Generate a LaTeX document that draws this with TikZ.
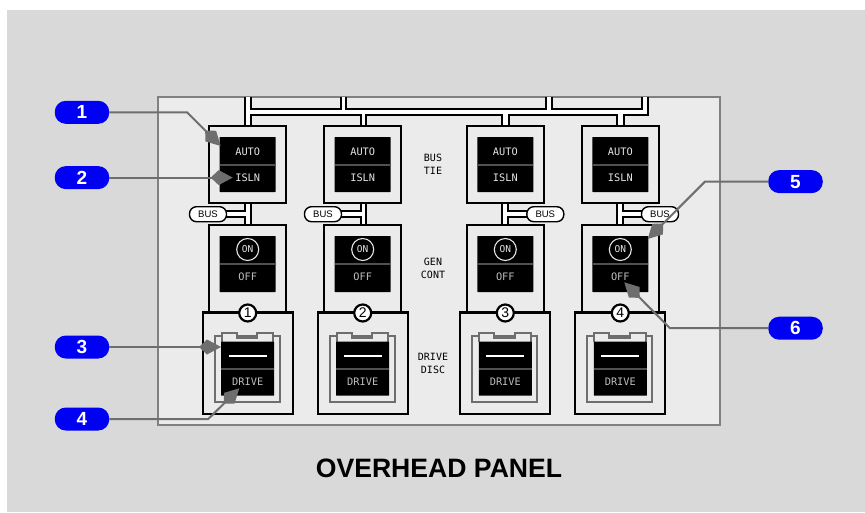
\documentclass[tikz,border=0pt]{standalone}
\usepackage{fontspec}
\setmainfont{Liberation Sans}
\newfontfamily\panelfont{DejaVu Sans Mono}
\usetikzlibrary{arrows.meta,calc}
\definecolor{pagebg}{HTML}{D9D9D9}
\definecolor{panelbg}{HTML}{EBEBEB}
\definecolor{framegray}{HTML}{808080}
\definecolor{leadergray}{HTML}{6E6E6E}
\definecolor{dividergray}{HTML}{505050}
\definecolor{calloutblue}{HTML}{0000F5}
\definecolor{legendlight}{HTML}{E4E4E4}
\definecolor{legenddim}{HTML}{BEBEBE}
\tikzset{
  wire/.style={draw=black,line width=2pt},
  unitbox/.style={draw=black,line width=2.2pt,fill=panelbg,inner sep=0pt,outer sep=0pt,minimum width=77pt},
  face/.style={fill=black,inner sep=0pt,outer sep=0pt,minimum width=56pt,rounded corners=0.5pt},
  legend/.style={inner sep=0pt,font=\panelfont\fontsize{10.3}{10}\selectfont},
  sidelabel/.style={inner sep=0pt,align=center,text=black,font=\panelfont\fontsize{10}{12.6}\selectfont},
  buspill/.style={draw=black,line width=1.4pt,fill=white,rounded corners=7pt,inner sep=0pt,outer sep=0pt,
    minimum width=37pt,minimum height=15pt,font=\fontsize{9.5}{9.5}\selectfont},
  callout/.style={fill=calloutblue,text=white,rounded corners=11pt,inner sep=0pt,outer sep=0pt,
    minimum width=54.5pt,minimum height=23pt,font=\bfseries\fontsize{19}{19}\selectfont},
  unitnum/.style={circle,draw=black,line width=2.2pt,fill=white,inner sep=0pt,outer sep=0pt,minimum size=17pt,
    font=\fontsize{14}{14}\selectfont},
  leader/.style={draw=leadergray,line width=2pt,-{Kite[length=22pt,width=15pt,inset=8pt]}}
}
% one column of the panel: #1 = number, #2 = centre x
\newcommand{\panelcolumn}[2]{
  \node[unitbox,minimum height=77pt] (tie#1) at (#2,164.2) {};
  \node[face,minimum height=55pt] (tieface#1) at (#2,164.5) {};
  \node[legend,text=legendlight] (auto#1) at (#2,151.3) {AUTO};
  \node[legend,text=legendlight] (isln#1) at (#2,177.3) {ISLN};
  \draw[dividergray,line width=2pt] (tieface#1.west) -- (tieface#1.east);
  \node[unitbox,minimum height=88pt] (gen#1) at (#2,268.7) {};
  \node[face,minimum height=56pt] (genface#1) at (#2,264) {};
  \node[circle,draw=legendlight,line width=1.1pt,inner sep=0pt,minimum size=22pt,text=legendlight,
    font=\panelfont\fontsize{9.5}{9.5}\selectfont] (on#1) at (#2,249.5) {ON};
  \node[legend,text=legenddim] (off#1) at (#2,276.3) {OFF};
  \draw[dividergray,line width=2pt] (genface#1.west) -- (genface#1.east);
  \node[unitbox,minimum width=90pt,minimum height=101.5pt] (disc#1) at (#2,363.3) {};
  \draw[leadergray,line width=2pt] ($(disc#1.center)+(-33,-27.5)$) rectangle ($(disc#1.center)+(32,38.7)$);
  \draw[leadergray,line width=2pt,fill=panelbg] ($(disc#1.center)+(-26,-21)$) -- ++(0,-9.3) -- ++(15,0) -- ++(0,4.6)
    -- ++(20.5,0) -- ++(0,-4.6) -- ++(16,0) -- ++(0,9.3);
  \node[face,minimum width=53pt,minimum height=54pt] (discface#1) at ($(disc#1.center)+(0,5.4)$) {};
  \draw[white,line width=2pt] ($(discface#1.center)+(-19,-13)$) -- ($(discface#1.center)+(19,-13)$);
  \draw[dividergray,line width=2pt] (discface#1.west) -- (discface#1.east);
  \node[legend,text=legenddim] (drive#1) at ($(discface#1.center)+(0,13.5)$) {DRIVE};
  \node[unitnum] (num#1) at (#2,313) {#1};
}
% bus branch between tie and gen box: #1 = left wire x, #2 = pill x, #3 = branch side x
\newcommand{\busbranch}[3]{
  \fill[white] (#1,203) rectangle (#1+5.6,225);
  \draw[wire] (#1,203) -- (#1,225);
  \draw[wire] (#1+5.6,203) -- (#1+5.6,225);
  \fill[white] (#3,210.7) rectangle (#2,217);
  \draw[wire] (#3,210.7) -- (#2,210.7);
  \draw[wire] (#3,217) -- (#2,217);
  \fill[white] (#3-1.1,211.7) rectangle (#3+1.1,216);
}
\begin{document}
\begin{tikzpicture}[x=1pt,y=-1pt]
  \useasboundingbox (0,0) rectangle (865,512);
  \fill[pagebg] (7,10) rectangle (865,512);
  \node[draw=framegray,line width=2pt,fill=panelbg,inner sep=0pt,outer sep=0pt,minimum width=562pt,minimum height=328pt] (panel) at (439,261) {};

  % bus tie wiring along the top of the panel
  \fill[white] (245.3,97) -- (250.7,97) -- (250.7,109) -- (340.7,109) -- (340.7,97) -- (346.3,97) -- (346.3,109) -- (546,109) -- (546,97)
    -- (551.5,97) -- (551.5,109) -- (641.7,109) -- (641.7,97) -- (647.5,97) -- (647.5,115) -- (623.5,115) -- (623.5,125) -- (617,125)
    -- (617,115) -- (508.5,115) -- (508.5,125) -- (502,125) -- (502,115) -- (366.3,115) -- (366.3,125) -- (360.7,125)
    -- (360.7,115) -- (250.7,115) -- (250.7,125) -- (245.3,125) -- cycle;
  \draw[wire] (245.3,97) -- (245.3,125);
  \draw[wire] (250.7,97) -- (250.7,109) -- (340.7,109) -- (340.7,97);
  \draw[wire] (346.3,97) -- (346.3,109) -- (546,109) -- (546,97);
  \draw[wire] (551.5,97) -- (551.5,109) -- (641.7,109) -- (641.7,97);
  \draw[wire] (647.5,97) -- (647.5,115) -- (623.5,115) -- (623.5,125);
  \draw[wire] (617,125) -- (617,115) -- (508.5,115) -- (508.5,125);
  \draw[wire] (502,125) -- (502,115) -- (366.3,115) -- (366.3,125);
  \draw[wire] (360.7,125) -- (360.7,115) -- (250.7,115) -- (250.7,125);

  \busbranch{245.3}{226}{245.3}
  \busbranch{360.7}{341}{360.7}
  \busbranch{502.4}{528}{508}
  \busbranch{617.4}{642}{623}
  \node[buspill] (bus1) at (208,214.2) {BUS};
  \node[buspill] (bus2) at (323,214.2) {BUS};
  \node[buspill] (bus3) at (545.3,214.2) {BUS};
  \node[buspill] (bus4) at (660,214.2) {BUS};

  \panelcolumn{1}{247.7}
  \panelcolumn{2}{362.7}
  \panelcolumn{3}{505.3}
  \panelcolumn{4}{620.3}

  \node[sidelabel] (bustie) at (433,164.5) {BUS\\TIE};
  \node[sidelabel] (gencont) at (433,268.5) {GEN\\CONT};
  \node[sidelabel] (drivedisc) at (433,363.5) {DRIVE\\DISC};

  \node[inner sep=0pt,font=\bfseries\fontsize{26.6}{26.6}\selectfont] (title) at (439,468) {OVERHEAD PANEL};

  % callouts
  \node[callout] (call1) at (82,112.3) {1};
  \node[callout] (call2) at (82,177.6) {2};
  \node[callout] (call3) at (82,347) {3};
  \node[callout] (call4) at (82,419) {4};
  \node[callout] (call5) at (795.5,181.6) {5};
  \node[callout] (call6) at (795.5,328.2) {6};
  \coordinate (tip1) at (220.7,146);
  \coordinate (tip2) at (232.7,177.6);
  \coordinate (tip3) at (221,347);
  \coordinate (tip4) at (239.3,388.3);
  \coordinate (tip5) at (647.7,239);
  \coordinate (tip6) at (624.3,282.3);
  \draw[leader] (call1.east) -- (187,112.3) -- (tip1);
  \draw[leader] (call2.east) -- (tip2);
  \draw[leader] (call3.east) -- (tip3);
  \draw[leader] (call4.east) -- (208.3,419) -- (tip4);
  \draw[leader] (call5.west) -- (705,181.6) -- (tip5);
  \draw[leader] (call6.west) -- (670,328.2) -- (tip6);
\end{tikzpicture}
\end{document}
